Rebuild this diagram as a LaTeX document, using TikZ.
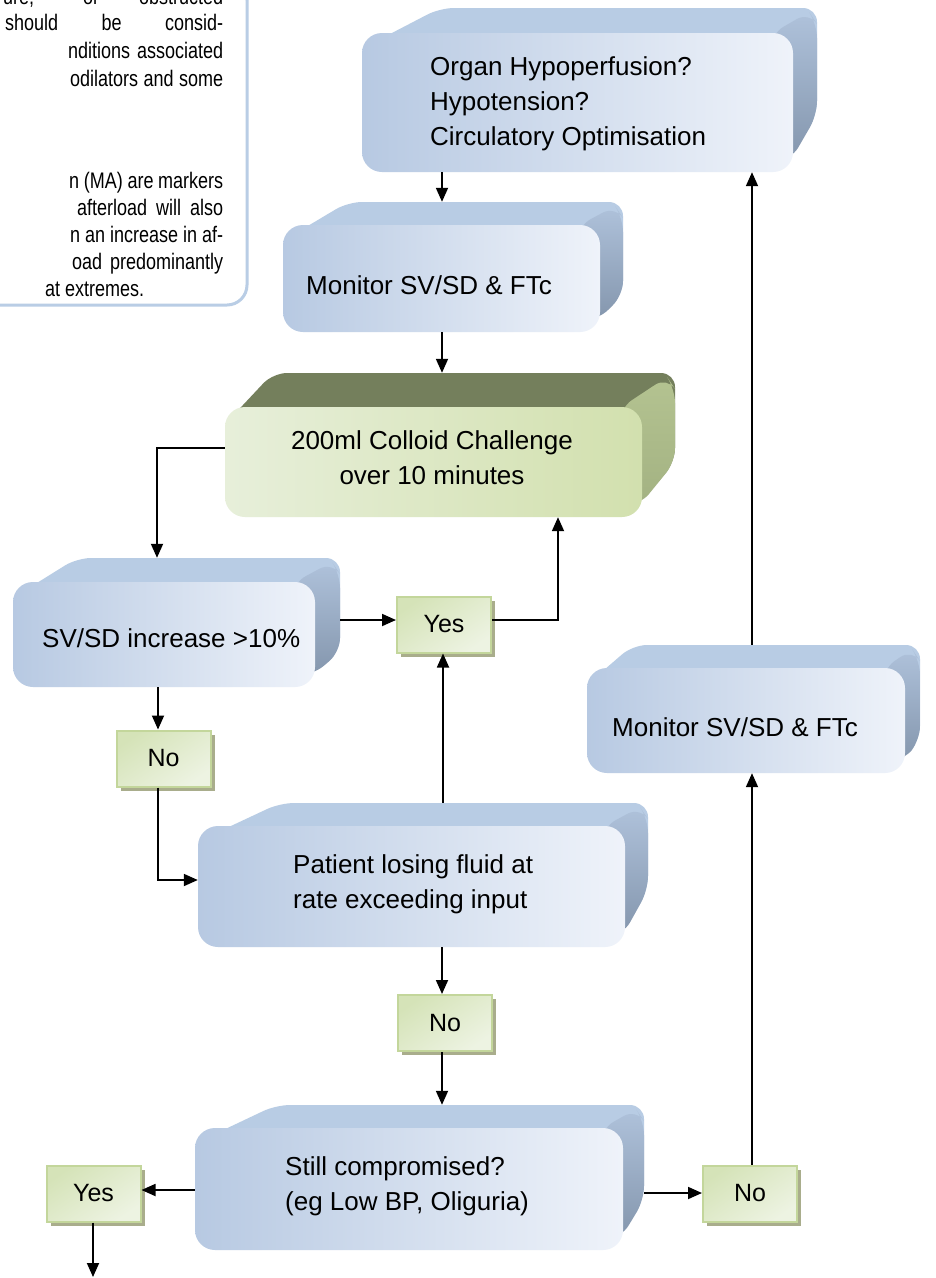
\documentclass[tikz,border=0pt]{standalone}
\usepackage{fontspec}
\setmainfont{Liberation Sans}
\newfontfamily\narrowfont[FakeStretch=0.8]{Liberation Sans}
\usetikzlibrary{arrows.meta,shadows}
\definecolor{btop}{HTML}{B8CCE4}
\definecolor{bsideA}{HTML}{AFC2DB}
\definecolor{bsideB}{HTML}{8496AD}
\definecolor{bfl}{HTML}{B7C9E2}
\definecolor{bfr}{HTML}{EFF3FA}
\definecolor{gtop}{HTML}{747F5C}
\definecolor{gsideA}{HTML}{B4C391}
\definecolor{gsideB}{HTML}{A3B282}
\definecolor{gfl}{HTML}{E7EFDA}
\definecolor{gfr}{HTML}{D2E0AE}
\definecolor{sbA}{HTML}{D5E3B8}
\definecolor{sbB}{HTML}{EDF3E2}
\definecolor{sbline}{HTML}{C3D69B}
\definecolor{sbshadow}{HTML}{A9AD8C}
\definecolor{paraline}{HTML}{B9CDE5}
\newcommand\nodefont{\fontsize{26}{35}\selectfont}
\newcommand\parafont{\narrowfont\fontsize{22.5}{28}\selectfont}
% faces: x1 y1 x2 y2 bx1 by1 bx2 by2 colourprefix
\newcommand\faces[9]{%
  \fill[#9top, rounded corners=14pt] (#1+3,#2+14) -- (#5,#6) -- (#7,#6) -- (#7,#8) -- (#3-4,#4-12) -- (#3-4,#2+4) -- cycle;
  \path[top color=#9sideA, bottom color=#9sideB, rounded corners=14pt] (#3-22,#2+1) -- (#7-8,#6+4) -- (#7,#6+16) -- (#7,#8) -- (#3-2,#4-12) -- (#3-22,#4-12) -- cycle;
}
\begin{document}
\begin{tikzpicture}[x=1pt,y=-1pt,
  front/.style={rectangle, rounded corners=20pt, inner sep=0pt},
  bluefront/.style={front, left color=bfl, right color=bfr},
  greenfront/.style={front, left color=gfl, right color=gfr},
  ntext/.style={inner sep=0pt, font=\nodefont, align=left},
  ext/.style={rectangle, inner sep=0pt},
  smallbox/.style={rectangle, draw=sbline, line width=2pt, top color=sbA, bottom color=sbB, shading angle=35,
    minimum width=94pt, minimum height=56pt, inner sep=0pt, font=\fontsize{25}{30}\selectfont,
    general shadow={fill=sbshadow, shadow xshift=4pt, shadow yshift=-4pt}},
  para/.style={inner sep=0pt, font=\parafont, anchor=base west},
  arr/.style={line width=1.8pt, -{Triangle[length=14pt,width=12pt]}}]
\useasboundingbox (0,0) rectangle (936,1278);
\clip (0,0) rectangle (936,1278);
\fill[white] (0,0) rectangle (936,1278);

% text box top left
\draw[paraline, line width=3pt, rounded corners=20pt] (-20,-20) -- (247,-20) -- (247,305) -- (-20,305);
\node[para] (p0) at (3,4) {\makebox[220pt][s]{ure, or obstructed}};
\node[para] (p1) at (5,30.5) {\makebox[218pt][s]{should be consid-}};
\node[para] (p2) at (68,58.5) {\makebox[155pt][s]{nditions associated}};
\node[para] (p3) at (70,86.5) {\makebox[153pt][s]{odilators and some}};
\node[para] (p4) at (69,188) {\makebox[154pt][s]{n (MA) are markers}};
\node[para] (p5) at (77,215) {\makebox[146pt][s]{afterload will also}};
\node[para] (p6) at (70,242) {\makebox[153pt][s]{n an increase in af-}};
\node[para] (p7) at (72,269) {\makebox[151pt][s]{oad predominantly}};
\node[para] (p8) at (45,296) {at extremes.};

% n1
\faces{362}{33}{793}{172}{440}{8}{817}{115}{b}
\node[bluefront, minimum width=431pt, minimum height=139pt] (n1f) at (577.5,102.5) {};
\node[ntext, anchor=west] (n1t) at (430,104) {Organ Hypoperfusion?\\Hypotension?\\Circulatory Optimisation};
\node[ext, minimum width=455pt, minimum height=164pt] (n1) at (589.5,90) {};
% n2
\faces{283}{225}{600}{332}{348}{202}{623}{295}{b}
\node[bluefront, minimum width=317pt, minimum height=107pt] (n2f) at (441.5,278.5) {};
\node[ntext, anchor=west] (n2t) at (306,285) {Monitor SV/SD \& FTc};
\node[ext, minimum width=340pt, minimum height=130pt] (n2) at (453,267) {};
% n3 green
\faces{225}{407}{642}{517}{273}{373}{675}{462}{g}
\node[greenfront, minimum width=417pt, minimum height=110pt] (n3f) at (433.5,462) {};
\node[ntext, align=center] (n3t) at (432,458) {200ml Colloid Challenge\\over 10 minutes};
\node[ext, minimum width=450pt, minimum height=144pt] (n3) at (450,445) {};
% n4
\faces{13}{582}{315}{687}{77}{558}{340}{652}{b}
\node[bluefront, minimum width=302pt, minimum height=105pt] (n4f) at (164,634.5) {};
\node[ntext, anchor=west] (n4t) at (42,638) {SV/SD increase >10\%};
\node[ext, minimum width=327pt, minimum height=129pt] (n4) at (176.5,622.5) {};
% n5
\faces{198}{826}{625}{947}{280}{803}{648}{890}{b}
\node[bluefront, minimum width=427pt, minimum height=121pt] (n5f) at (411.5,886.5) {};
\node[ntext, anchor=west] (n5t) at (293,884.5) {Patient losing fluid at\\rate exceeding input};
\node[ext, minimum width=450pt, minimum height=144pt] (n5) at (423,875) {};
% n6
\faces{195}{1128}{623}{1250}{276}{1105}{644}{1200}{b}
\node[bluefront, minimum width=428pt, minimum height=122pt] (n6f) at (409,1189) {};
\node[ntext, anchor=west] (n6t) at (285,1186) {Still compromised?\\(eg Low BP, Oliguria)};
\node[ext, minimum width=449pt, minimum height=145pt] (n6) at (419.5,1177.5) {};
% n7
\faces{587}{668}{905}{773}{633}{645}{920}{740}{b}
\node[bluefront, minimum width=318pt, minimum height=105pt] (n7f) at (746,720.5) {};
\node[ntext, anchor=west] (n7t) at (612,727) {Monitor SV/SD \& FTc};
\node[ext, minimum width=333pt, minimum height=128pt] (n7) at (753.5,709) {};

% small boxes
\node[smallbox] (y1) at (444,624.5) {Yes};
\node[smallbox] (no1) at (163.5,758.5) {No};
\node[smallbox] (no2) at (445,1023) {No};
\node[smallbox] (y2) at (93.5,1193.5) {Yes};
\node[smallbox] (no3) at (750,1193.5) {No};
\coordinate (out) at (93,1277);

% connectors
\draw[arr] (n1.south -| 442,0) -- (n2.north -| 442,0);
\draw[arr] (n2.south -| 442,0) -- (n3.north -| 442,0);
\draw[arr] (n3.west |- 0,448) -| (n4.north -| 157,0);
\draw[arr] (n4.east |- 0,620) -- (y1.west |- 0,620);
\draw[arr] (y1.east |- 0,620) -| (n3.south -| 558,0);
\draw[arr] (n4.south -| 158,0) -- (no1.north -| 158,0);
\draw[arr] (no1.south -| 158,0) |- (n5.west |- 0,880);
\draw[arr] (n5.north -| 443,0) -- (y1.south -| 443,0);
\draw[arr] (n5.south -| 442,0) -- (no2.north -| 442,0);
\draw[arr] (no2.south -| 442,0) -- (n6.north -| 442,0);
\draw[arr] (n6.west |- 0,1190) -- (y2.east |- 0,1190);
\draw[arr] (y2.south -| 93,0) -- (out);
\draw[arr] (n6.east |- 0,1193) -- (no3.west |- 0,1193);
\draw[arr] (no3.north -| 752,0) -- (n7.south -| 752,0);
\draw[arr] (n7.north -| 752,0) -- (n1.south -| 752,0);
\end{tikzpicture}
\end{document}
